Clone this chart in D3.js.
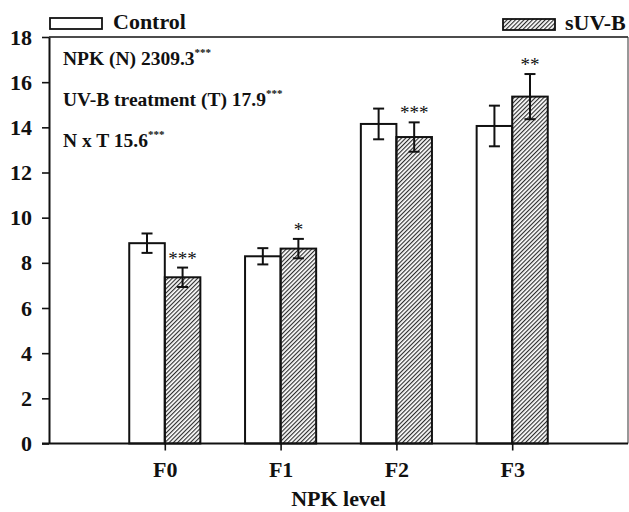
<!DOCTYPE html>
<html>
<head>
<meta charset="utf-8">
<script src="https://cdn.jsdelivr.net/npm/d3@7"></script>
<style>
  html, body { margin: 0; padding: 0; background: #fff; }
  svg { display: block; }
  text { font-family: "Liberation Serif", "Times New Roman", serif; fill: #111; }
</style>
</head>
<body>
<svg id="chart" width="629" height="512"></svg>
<script>
// NPK level vs UV-B treatment: mean values with standard error
const categories = ["F0", "F1", "F2", "F3"];
const seriesNames = ["Control", "sUV-B"];
const controlMean = [8.87, 8.29, 14.15, 14.06];
const controlErr  = [0.43, 0.36, 0.68, 0.90];
const uvbMean     = [7.36, 8.63, 13.57, 15.36];
const uvbErr      = [0.43, 0.43, 0.65, 1.00];
const uvbSignif   = ["***", "*", "***", "**"];
const yTicks      = [0, 2, 4, 6, 8, 10, 12, 14, 16, 18];
const anovaLabels = ["NPK (N) 2309.3", "UV-B treatment (T) 17.9", "N x T 15.6"];
const anovaSignif = ["***", "***", "***"];

const svg = d3.select("#chart");
const plotL = 49, plotR = 628, plotT = 37, plotB = 443.5;

const x = d3.scalePoint().domain(categories).range([plotL, plotR]).padding(1);
const y = d3.scaleLinear().domain([0, 18]).range([plotB, plotT]);
const barW = x.step() * 0.307;

// hatch fill for the sUV-B bars
const defs = svg.append("defs");
defs.append("pattern")
  .attr("id", "hatch")
  .attr("patternUnits", "userSpaceOnUse")
  .attr("width", 3).attr("height", 3)
  .attr("patternTransform", "rotate(45)")
  .append("line")
  .attr("x1", 0.6).attr("y1", 0).attr("x2", 0.6).attr("y2", 3)
  .attr("stroke", "#222").attr("stroke-width", 1.1);

// frame: top and right edges
svg.append("line").attr("x1", plotL).attr("x2", plotR).attr("y1", plotT).attr("y2", plotT)
  .attr("stroke", "#111").attr("stroke-width", 1.6);
svg.append("line").attr("x1", plotR).attr("x2", plotR).attr("y1", plotT).attr("y2", plotB)
  .attr("stroke", "#333").attr("stroke-width", 1);

const series = [
  { name: seriesNames[0], mean: controlMean, err: controlErr, offset: -1, fill: "#fff" },
  { name: seriesNames[1], mean: uvbMean, err: uvbErr, offset: 0, fill: "url(#hatch)" }
];

series.forEach(s => {
  const g = svg.append("g");
  const rows = categories.map((c, i) => ({ c, v: s.mean[i], e: s.err[i], i }));
  const bx = d => x(d.c) + s.offset * barW;
  const cx = d => bx(d) + barW / 2;

  g.selectAll("rect").data(rows).join("rect")
    .attr("x", bx)
    .attr("y", d => y(d.v))
    .attr("width", barW)
    .attr("height", d => y(0) - y(d.v))
    .attr("fill", s.fill)
    .attr("stroke", "#111")
    .attr("stroke-width", 2);

  // error bars
  const eb = g.selectAll("g.err").data(rows).join("g").attr("class", "err");
  eb.append("line")
    .attr("x1", cx).attr("x2", cx)
    .attr("y1", d => y(d.v + d.e)).attr("y2", d => y(d.v - d.e))
    .attr("stroke", "#111").attr("stroke-width", 2);
  [1, -1].forEach(sign => {
    eb.append("line")
      .attr("x1", d => cx(d) - 5.5).attr("x2", d => cx(d) + 5.5)
      .attr("y1", d => y(d.v + sign * d.e)).attr("y2", d => y(d.v + sign * d.e))
      .attr("stroke", "#111").attr("stroke-width", 2);
  });

  if (s.offset === 0) {
    g.selectAll("text.sig").data(rows).join("text")
      .attr("class", "sig")
      .attr("x", cx)
      .attr("y", d => y(d.v + d.e) - 3)
      .attr("text-anchor", "middle")
      .style("font-size", "19px")
      .text(d => uvbSignif[d.i]);
  }
});

// y axis
const yAxis = svg.append("g")
  .attr("transform", `translate(${plotL},0)`)
  .call(d3.axisLeft(y).tickValues(yTicks).tickSize(7).tickPadding(10).tickSizeOuter(0));
yAxis.select(".domain").attr("stroke", "#111").attr("stroke-width", 2);
yAxis.selectAll(".tick line").attr("stroke", "#111").attr("stroke-width", 1.6);
yAxis.selectAll(".tick text")
  .style("font-family", "'Liberation Serif', serif")
  .style("font-size", "22px").style("font-weight", "bold").attr("fill", "#111");

// x axis
const xAxis = svg.append("g")
  .attr("transform", `translate(0,${plotB})`)
  .call(d3.axisBottom(x).tickSize(7).tickPadding(11).tickSizeOuter(0));
xAxis.select(".domain").remove();
xAxis.append("line").attr("x1", plotL - 7).attr("x2", plotR).attr("y1", 0).attr("y2", 0)
  .attr("stroke", "#111").attr("stroke-width", 2);
xAxis.selectAll(".tick line").attr("stroke", "#111").attr("stroke-width", 1.6);
xAxis.selectAll(".tick text")
  .style("font-family", "'Liberation Serif', serif")
  .style("font-size", "22px").style("font-weight", "bold").attr("fill", "#111");

svg.append("text")
  .attr("x", (plotL + plotR) / 2).attr("y", 506)
  .attr("text-anchor", "middle")
  .style("font-size", "22px").style("font-weight", "bold")
  .text("NPK level");

// ANOVA F-values
anovaLabels.forEach((t, i) => {
  const tx = svg.append("text")
    .attr("x", 63).attr("y", 65 + i * 41)
    .style("font-size", "19.5px").style("font-weight", "bold");
  tx.append("tspan").text(t);
  tx.append("tspan").attr("dy", -9).style("font-size", "11px").text(anovaSignif[i]);
});

// legend
const legend = [
  { name: seriesNames[0], fill: "#fff", rx: 50, ry: 18, tx: 113, ty: 29 },
  { name: seriesNames[1], fill: "url(#hatch)", rx: 503, ry: 19, tx: 565, ty: 30 }
];
legend.forEach(l => {
  svg.append("rect").attr("x", l.rx).attr("y", l.ry).attr("width", 52).attr("height", 11)
    .attr("fill", l.fill).attr("stroke", "#111").attr("stroke-width", 1.8);
  svg.append("text").attr("x", l.tx).attr("y", l.ty)
    .style("font-size", "22px").style("font-weight", "bold").text(l.name);
});
</script>
</body>
</html>
